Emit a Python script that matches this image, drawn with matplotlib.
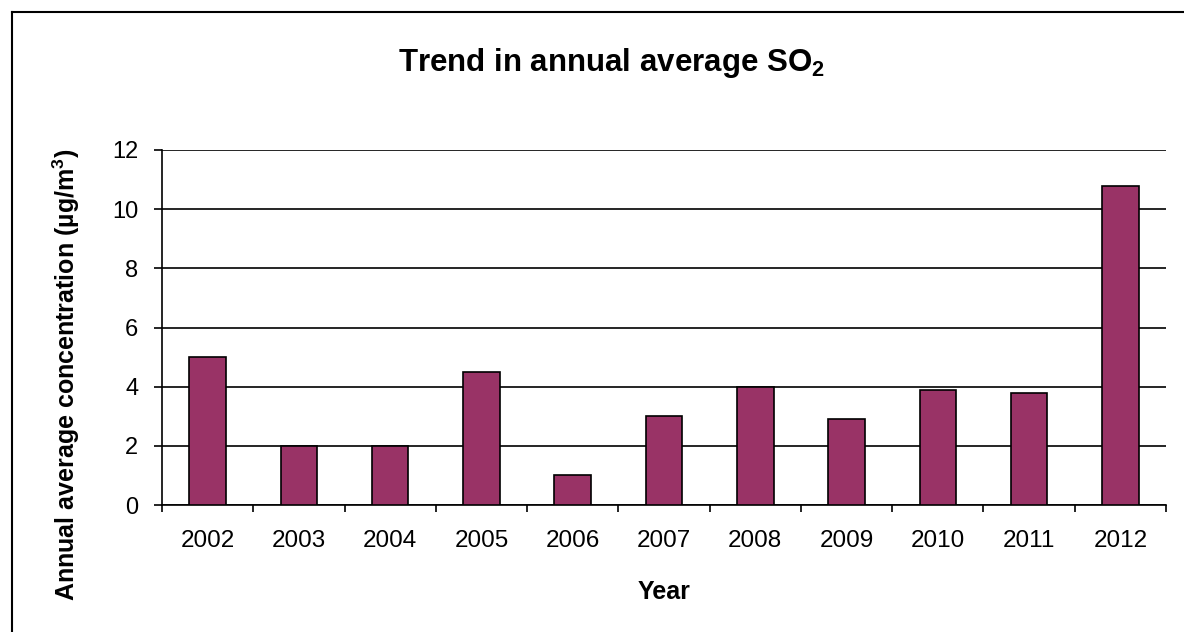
import numpy as np
import matplotlib
matplotlib.use("Agg")
import matplotlib.pyplot as plt
from matplotlib.lines import Line2D

plt.rcParams.update({"font.family": "Liberation Sans",
                     "mathtext.fontset": "custom",
                     "mathtext.rm": "Liberation Sans",
                     "mathtext.bf": "Liberation Sans:bold"})

years = ["2002", "2003", "2004", "2005", "2006", "2007", "2008", "2009", "2010", "2011", "2012"]
so2 = [5.0, 2.0, 2.0, 4.5, 1.0, 3.0, 4.0, 2.9, 3.9, 3.8, 10.8]
yticks = [0, 2, 4, 6, 8, 10, 12]

W, H = 1184, 632
fig = plt.figure(figsize=(W/100, H/100), dpi=100)
ax = fig.add_axes([162/W, 1-505/H, (1166-162)/W, (505-150)/H])

x = np.arange(len(years))
ax.bar(x, so2, width=0.4, color="#993366", edgecolor="black", linewidth=1.2, zorder=3)

ax.set_xlim(-0.5, len(years)-0.5)
ax.set_ylim(0, 12)
ax.set_yticks(yticks)
ax.set_xticks(x)
ax.set_xticklabels(years)
ax.set_xticks(np.arange(len(years)+1)-0.5, minor=True)
ax.tick_params(axis="x", which="major", length=0, pad=18, labelsize=17.5)
ax.tick_params(axis="x", which="minor", length=5, width=1.2, direction="out")
ax.tick_params(axis="y", length=6, width=1.2, pad=11, labelsize=17)
ax.yaxis.grid(True, color="black", linewidth=1.2, zorder=0)
for s in ["top", "right"]:
    ax.spines[s].set_visible(False)
for s in ["left", "bottom"]:
    ax.spines[s].set_linewidth(1.2)

fig.text(664/W, 1-592/H, "Year", ha="center", va="center", fontsize=18, fontweight="bold")
fig.text(66/W, 1-375/H, r"Annual average concentration (µg/m$^\mathbf{3}$)",
         rotation=90, ha="center", va="center", fontsize=18, fontweight="bold")
fig.text(611/W, 1-63/H, r"Trend in annual average SO$_\mathbf{2}$",
         ha="center", va="center", fontsize=22.5, fontweight="bold")

# chart-area frame (left and top edges visible)
fig.add_artist(Line2D([12/W, 12/W], [0, 1-12/H], color="black", linewidth=1.5))
fig.add_artist(Line2D([12/W, 1], [1-12/H, 1-12/H], color="black", linewidth=1.5))

fig.savefig("out.png", dpi=100)
